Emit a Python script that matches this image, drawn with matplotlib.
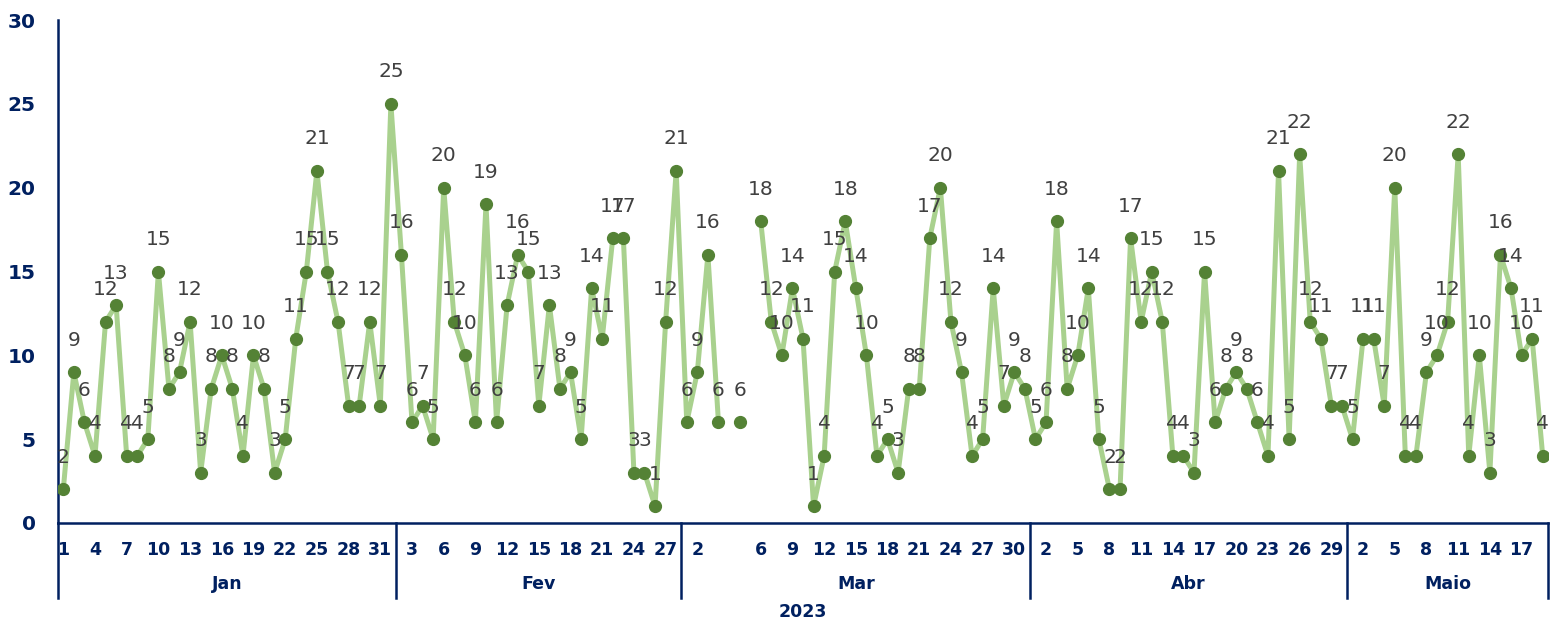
import numpy as np
import matplotlib.pyplot as plt
import matplotlib.transforms as mtransforms

# daily values per month (None = no data for that category)
jan_days = [str(d) for d in range(1, 32)] + ['']
jan_vals = [2, 9, 6, 4, 12, 13, 4, 4, 5, 15, 8, 9, 12, 3, 8, 10, 8, 4, 10, 8,
            3, 5, 11, 15, 21, 15, 12, 7, 7, 12, 7, 25]

fev_days = [str(d) for d in range(2, 29)]
fev_vals = [16, 6, 7, 5, 20, 12, 10, 6, 19, 6, 13, 16, 15, 7, 13, 8, 9, 5, 14, 11,
            17, 17, 3, 3, 1, 12, 21]

mar_days = ['1', '2', '3', '4', '', '5', ''] + [str(d) for d in range(6, 32)]
mar_vals = [6, 9, 16, 6, None, 6, None, 18, 12, 10, 14, 11, 1, 4, 15, 18, 14, 10, 4, 5,
            3, 8, 8, 17, 20, 12, 9, 4, 5, 14, 7, 9, 8]

abr_days = [str(d) for d in range(1, 31)]
abr_vals = [5, 6, 18, 8, 10, 14, 5, 2, 2, 17, 12, 15, 12, 4, 4, 3, 15, 6, 8, 9,
            8, 6, 4, 21, 5, 22, 12, 11, 7, 7]

mai_days = [str(d) for d in range(1, 20)]
mai_vals = [5, 11, 11, 7, 20, 4, 4, 9, 10, 12, 22, 4, 10, 3, 16, 14, 10, 11, 4]

months = ['Jan', 'Fev', 'Mar', 'Abr', 'Maio']
year = '2023'

navy = '#002060'
light_green = '#A9D18E'
dark_green = '#548235'
label_grey = '#404040'

groups = [(jan_days, jan_vals), (fev_days, fev_vals), (mar_days, mar_vals),
          (abr_days, abr_vals), (mai_days, mai_vals)]
days = sum([g[0] for g in groups], [])
vals = np.array([np.nan if v is None else v for g in groups for v in g[1]], dtype=float)
x = np.arange(len(vals))

fig = plt.figure(figsize=(15.53, 6.25), dpi=100)
ax = fig.add_axes([58 / 1553, 1 - 523 / 625, 1490 / 1553, 503 / 625])

ax.plot(x, vals, color=light_green, lw=3.6, zorder=2, solid_joinstyle='round')
ax.plot(x, vals, 'o', color=dark_green, ms=8.5, zorder=3)

for xi, v in zip(x, vals):
    if np.isnan(v):
        continue
    ax.annotate(str(int(v)), (xi, v), xytext=(0, 23), textcoords='offset points',
                ha='center', va='center', fontsize=14.5, color=label_grey, zorder=4)

ax.set_xlim(-0.5, len(vals) - 0.5)
ax.set_ylim(0, 30)
ax.set_yticks(range(0, 31, 5))
ax.tick_params(axis='y', length=0, pad=16, labelsize=14.5, labelcolor=navy)
for t in ax.get_yticklabels():
    t.set_fontweight('bold')

ticks = x[::3]
ax.set_xticks(ticks)
ax.set_xticklabels([days[i] for i in ticks], fontsize=12.5, fontweight='bold', color=navy)
ax.tick_params(axis='x', length=0, pad=13)

for side in ['top', 'right']:
    ax.spines[side].set_visible(False)
for side in ['left', 'bottom']:
    ax.spines[side].set_color(navy)
    ax.spines[side].set_linewidth(1.8)

# month groups of the category axis
trans = mtransforms.blended_transform_factory(ax.transData, ax.transAxes)
start = 0
bounds = [-0.5]
for name, (d, v) in zip(months, groups):
    end = start + len(d)
    ax.text((start + end - 1) / 2, -0.1213, name, transform=trans, ha='center', va='center',
            fontsize=12.5, fontweight='bold', color=navy)
    bounds.append(end - 0.5)
    start = end
for b in bounds:
    ax.plot([b, b], [0, -0.149], transform=trans, color=navy, lw=1.8, clip_on=False)

ax.text(0.5, -0.177, year, transform=ax.transAxes, ha='center', va='center',
        fontsize=12.5, fontweight='bold', color=navy)

fig.savefig('out.png', dpi=100)
